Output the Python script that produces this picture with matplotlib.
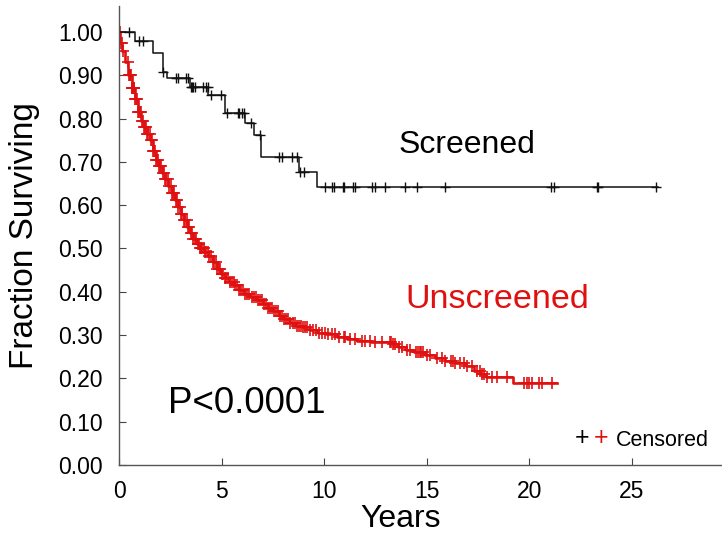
import numpy as np
import matplotlib
matplotlib.use('Agg')
import matplotlib.pyplot as plt

plt.rcParams['font.family'] = ['Liberation Sans', 'DejaVu Sans']

# Screened group: step times and survival after each step
scr_times = [0.0, 0.75, 1.66, 2.15, 2.31, 3.45, 4.35, 5.16, 6.14, 6.56, 6.9, 8.75, 9.64]
scr_surv = [1.0, 0.980, 0.951, 0.908, 0.893, 0.874, 0.855, 0.812, 0.789, 0.762, 0.712, 0.677, 0.643]
scr_end = 26.3
scr_censor = [0.47, 0.98, 1.17, 2.15, 2.77, 2.88, 3.26, 3.37, 3.49, 3.55, 3.62, 3.7,
              4.1, 4.24, 4.33, 4.45, 4.94, 5.25, 5.77, 5.86, 5.98, 6.1, 6.42, 6.87,
              7.77, 7.93, 8.42, 8.67, 8.8, 8.99, 10.05, 10.38, 10.49, 10.91, 10.97,
              11.38, 11.51, 12.33, 12.45, 12.95, 13.96, 14.53, 15.88, 21.04, 21.2,
              23.29, 23.35, 26.2]

# Unscreened group
uns_times = [0.0, 0.05, 0.15, 0.3, 0.45, 0.6, 0.75, 0.9, 1.05, 1.2, 1.35, 1.5, 1.65,
             1.8, 1.95, 2.1, 2.25, 2.4, 2.55, 2.7, 2.85, 3.0, 3.15, 3.3, 3.45, 3.6,
             3.8, 3.95, 4.15, 4.35, 4.55, 4.75, 4.95, 5.15, 5.35, 5.6, 5.85, 6.1,
             6.4, 6.7, 7.0, 7.25, 7.5, 7.8, 8.05, 8.35, 8.6, 8.9, 9.3, 9.7, 10.1,
             10.6, 11.1, 11.6, 12.3, 13.3, 13.6, 14.0, 14.4, 14.9, 15.4, 15.9, 16.4,
             16.9, 17.3, 17.6, 17.9, 19.2]
uns_surv = [1.0, 0.975, 0.955, 0.93, 0.90, 0.87, 0.845, 0.815, 0.795, 0.78, 0.765,
            0.75, 0.725, 0.705, 0.69, 0.675, 0.66, 0.645, 0.628, 0.612, 0.595, 0.58,
            0.566, 0.55, 0.535, 0.522, 0.51, 0.50, 0.492, 0.482, 0.468, 0.452, 0.442,
            0.432, 0.423, 0.415, 0.405, 0.396, 0.388, 0.38, 0.372, 0.363, 0.355,
            0.345, 0.337, 0.328, 0.322, 0.318, 0.312, 0.306, 0.302, 0.296, 0.291,
            0.287, 0.285, 0.280, 0.273, 0.266, 0.26, 0.255, 0.248, 0.24, 0.235,
            0.228, 0.218, 0.21, 0.203, 0.19]
uns_end = 21.37
uns_censor = [0.02, 0.08, 0.12, 0.18, 0.42, 0.46, 0.5, 0.53, 0.56, 0.6, 0.63, 0.66,
              0.7, 0.74, 0.78, 0.82, 0.86, 0.9, 0.95, 1.0, 1.04, 1.1, 1.15, 1.2, 1.26,
              1.3, 1.36, 1.42, 1.48, 1.55, 1.6, 1.66, 1.7, 1.75, 1.8, 1.85, 1.9, 1.96,
              2.0, 2.05, 2.12, 2.18, 2.25, 2.3, 2.36, 2.42, 2.5, 2.55, 2.62, 2.68,
              2.75, 2.8, 2.88, 2.95, 3.0, 3.08, 3.15, 3.2, 3.28, 3.35, 3.4, 3.48,
              3.55, 3.6, 3.68, 3.75, 3.82, 3.88, 3.95, 4.0, 4.05, 4.12, 4.18, 4.25,
              4.32, 4.4, 4.48, 4.55, 4.62, 4.7, 4.78, 4.85, 4.92, 5.0, 5.08, 5.15,
              5.22, 5.3, 5.4, 5.5, 5.58, 5.65, 5.75, 5.85, 5.95, 6.05, 6.15, 6.25,
              6.35, 6.45, 6.55, 6.65, 6.75, 6.85, 6.95, 7.05, 7.15, 7.25, 7.35, 7.45,
              7.55, 7.65, 7.75, 7.85, 7.95, 8.05, 8.15, 8.25, 8.35, 8.45, 8.55, 8.65,
              8.75, 8.85, 8.95, 9.05, 9.15, 9.3, 9.45, 9.6, 9.75, 9.9, 10.05, 10.2,
              10.37, 10.54, 10.7, 10.94, 11.03, 11.27, 11.51, 11.84, 12.0, 12.25,
              12.49, 12.82, 13.19, 13.26, 13.36, 13.47, 13.63, 13.8, 14.04, 14.2,
              14.45, 14.56, 14.66, 14.72, 14.82, 15.02, 15.18, 15.5, 15.75, 15.91,
              16.16, 16.29, 16.4, 16.64, 16.81, 16.97, 17.22, 17.46, 17.59, 17.7,
              17.78, 17.95, 18.19, 18.44, 18.93, 19.74, 19.9, 19.98, 20.15, 20.47,
              20.64, 21.12]

y_ticks = [0.0, 0.1, 0.2, 0.3, 0.4, 0.5, 0.6, 0.7, 0.8, 0.9, 1.0]
x_ticks = [0, 5, 10, 15, 20, 25]

BLACK = '#111111'
RED = '#e01010'


def step_value(times, surv, t):
    idx = np.searchsorted(times, t, side='right') - 1
    return np.asarray(surv)[np.clip(idx, 0, len(surv) - 1)]


def draw_km(ax, times, surv, end, censor, color, lw, ms, mew):
    tt = list(times) + [end]
    ss = list(surv) + [surv[-1]]
    ax.step(tt, ss, where='post', color=color, lw=lw)
    cy = step_value(times, surv, np.array(censor))
    ax.plot(censor, cy, ls='none', marker='+', color=color, ms=ms, mew=mew)


fig = plt.figure(figsize=(7.22, 5.35), dpi=100)
ax = fig.add_axes([0.1652, 0.1308, 0.8348, 0.858])

draw_km(ax, uns_times, uns_surv, uns_end, uns_censor, RED, 1.9, 8, 1.2)
draw_km(ax, scr_times, scr_surv, scr_end, scr_censor, BLACK, 1.1, 7, 1.0)

ax.set_xlim(0, 29.4)
ax.set_ylim(0, 1.06)
ax.set_xticks(x_ticks)
ax.set_yticks(y_ticks)
ax.set_yticklabels([f'{v:.2f}' for v in y_ticks])
ax.tick_params(direction='in', length=5, width=0.8, colors='#444444',
               labelcolor='black', labelsize=16.5, pad=12)
ax.tick_params(axis='x', pad=11)

for side in ['top', 'right']:
    ax.spines[side].set_visible(False)
for side in ['left', 'bottom']:
    ax.spines[side].set_color('#555555')
    ax.spines[side].set_linewidth(1.0)

ax.set_ylabel('Fraction Surviving', fontsize=24, va='center')
ax.yaxis.set_label_coords(-0.1565, 0.5)
ax.set_xlabel('Years', fontsize=23, va='baseline')
ax.xaxis.set_label_coords(0.467, -0.136)

ax.text(13.62, 0.7206, 'Screened', fontsize=23, ha='left', va='baseline', color='black')
ax.text(13.96, 0.3633, 'Unscreened', fontsize=24.5, ha='left', va='baseline', color=RED)
ax.text(2.38, 0.1194, 'P<0.0001', fontsize=26.5, ha='left', va='baseline', color='black')

ax.text(22.58, 0.062, '+', fontsize=18, ha='center', va='center', color='black')
ax.text(23.51, 0.062, '+', fontsize=18, ha='center', va='center', color=RED)
ax.text(24.23, 0.0439, 'Censored', fontsize=15.5, ha='left', va='baseline', color='black')

plt.savefig('out.png', dpi=100)
plt.close()
